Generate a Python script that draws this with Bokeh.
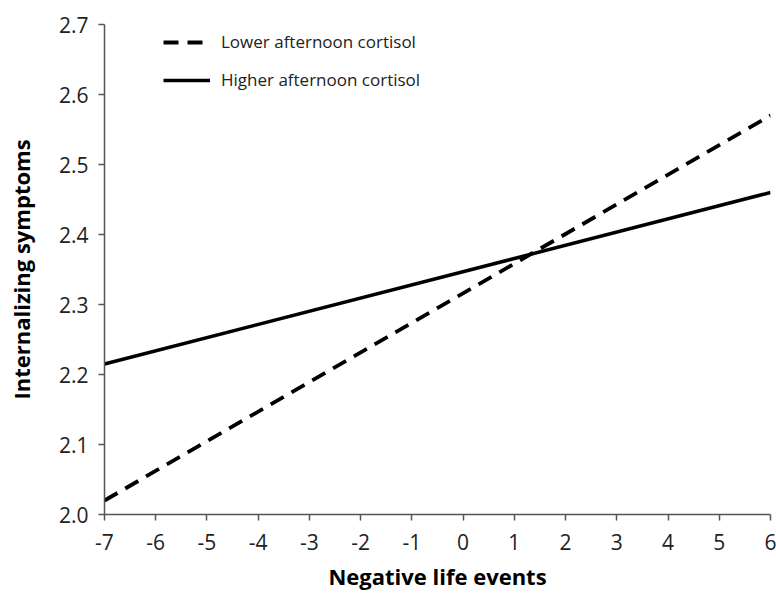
from bokeh.plotting import figure
from bokeh.models import FixedTicker, PrintfTickFormatter, Legend, LegendItem, Range1d
from bokeh.embed import file_html
from bokeh.resources import INLINE

x_vals = [-7, 6]
lower_cortisol = [2.02, 2.57]
higher_cortisol = [2.215, 2.46]
x_ticks = list(range(-7, 7))
y_ticks = [2.0, 2.1, 2.2, 2.3, 2.4, 2.5, 2.6, 2.7]

FONT = "Open Sans"

p = figure(width=776, height=593, output_backend="svg", toolbar_location=None,
           x_range=Range1d(-7, 6), y_range=Range1d(2.0, 2.7),
           min_border_left=104, min_border_right=6, min_border_top=24, min_border_bottom=77)
p.outline_line_color = None
p.grid.visible = False

l1 = p.line(x_vals, lower_cortisol, line_color="black", line_width=3.8, line_dash="15 9")
l2 = p.line(x_vals, higher_cortisol, line_color="black", line_width=3.5)

for ax in (p.xaxis[0], p.yaxis[0]):
    ax.axis_line_color = "#555555"
    ax.axis_line_width = 1.5
    ax.major_tick_line_color = "#555555"
    ax.major_tick_line_width = 1.5
    ax.major_tick_in = 0
    ax.major_tick_out = 6
    ax.minor_tick_line_color = None
    ax.major_label_text_font = FONT
    ax.major_label_text_font_size = "21px"
    ax.major_label_text_color = "#222222"
    ax.axis_label_text_font = FONT
    ax.axis_label_text_font_size = "22px"
    ax.axis_label_text_font_style = "bold"
    ax.axis_label_text_color = "black"

p.xaxis.ticker = FixedTicker(ticks=x_ticks)
p.yaxis.ticker = FixedTicker(ticks=y_ticks)
p.xaxis.formatter = PrintfTickFormatter(format="%d")
p.yaxis.formatter = PrintfTickFormatter(format="%.1f")
p.xaxis.axis_label = "Negative life events"
p.yaxis.axis_label = "Internalizing symptoms"
p.xaxis.major_label_standoff = 13
p.yaxis.major_label_standoff = 10
p.xaxis.axis_label_standoff = 8
p.yaxis.axis_label_standoff = 20

legend = Legend(items=[LegendItem(label="Lower afternoon cortisol", renderers=[l1]),
                       LegendItem(label="Higher afternoon cortisol", renderers=[l2])],
                location=(59, 423))
legend.margin = 0
legend.padding = 0
legend.border_line_color = None
legend.background_fill_alpha = 0
legend.glyph_width = 47
legend.glyph_height = 20
legend.label_height = 20
legend.spacing = 15
legend.label_standoff = 11
legend.label_text_font = FONT
legend.label_text_font_size = "17px"
legend.label_text_color = "#222222"
p.add_layout(legend, "center")

open("out.html", "w").write(file_html(p, INLINE))
